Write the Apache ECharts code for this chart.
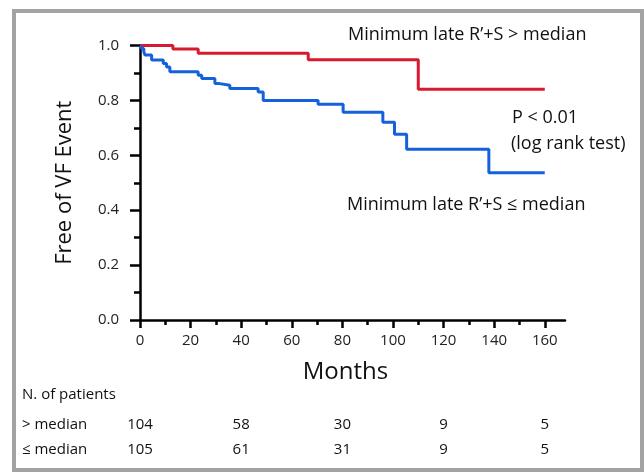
<!DOCTYPE html>
<html>
<head>
<meta charset="utf-8">
<script src="https://cdn.jsdelivr.net/npm/echarts@6/dist/echarts.min.js"></script>
<style>
  html, body { margin: 0; padding: 0; background: #fff; }
  #chart { width: 644px; height: 472px; }
</style>
</head>
<body>
<div id="chart"></div>
<script>
// Kaplan-Meier estimates: [month of event, survival after the event]
const highGroup = [
  [0, 1.0], [13, 0.987], [23, 0.972], [66.5, 0.948], [110, 0.841], [160, 0.841]
];
const lowGroup = [
  [0, 1.0], [0.7, 0.989], [1.5, 0.977], [2, 0.965], [4.6, 0.947], [9.2, 0.934],
  [10.5, 0.922], [11.8, 0.904], [23, 0.892], [24.4, 0.88], [29.6, 0.862],
  [30.9, 0.855], [35.5, 0.843], [46.7, 0.831], [48.7, 0.80], [70.4, 0.786],
  [80.3, 0.757], [96, 0.72], [100.6, 0.677], [105.4, 0.622], [137.9, 0.536],
  [160, 0.536]
];

const monthTicks = [0, 20, 40, 60, 80, 100, 120, 140, 160];
const monthMinorTicks = [10, 30, 50, 70, 90, 110, 130, 150];

// Number at risk table
const riskMonths = [0, 40, 80, 120, 160];
const riskHigh = [104, 58, 30, 9, 5];
const riskLow = [105, 61, 31, 9, 5];
const riskRowLabels = ['> median', '\u2264 median'];

const FONT = '"Open Sans", sans-serif';
const INK = '#000';

const chart = echarts.init(document.getElementById('chart'), null, { renderer: 'canvas' });

const axisLine = { show: true, lineStyle: { color: INK, width: 2.5 } };

const option = {
  backgroundColor: '#fff',
  animation: false,
  textStyle: { fontFamily: FONT },
  grid: { left: 140, top: 45.5, width: 425, height: 274.5, containLabel: false },
  xAxis: [
    {
      type: 'value', min: 0, max: 168, interval: 20, position: 'bottom',
      name: 'Months', nameLocation: 'middle', nameGap: 40,
      nameTextStyle: { fontSize: 24, color: '#111', fontFamily: FONT, padding: [0, 14, 0, 0] },
      axisLine: axisLine,
      axisTick: { show: true, length: 8, customValues: monthTicks, lineStyle: { color: INK, width: 2.5 } },
      axisLabel: { customValues: monthTicks, fontSize: 15, color: '#222', margin: 13, fontFamily: FONT },
      splitLine: { show: false }
    },
    {
      type: 'value', min: 0, max: 168, position: 'bottom',
      axisLine: { show: false },
      axisTick: { show: true, length: 5, customValues: monthMinorTicks, lineStyle: { color: INK, width: 2.5 } },
      axisLabel: { show: false },
      splitLine: { show: false }
    }
  ],
  yAxis: {
    type: 'value', min: 0, max: 1, interval: 0.2,
    name: 'Free of VF Event', nameLocation: 'middle', nameGap: 64,
    nameTextStyle: { fontSize: 22, color: '#111', fontFamily: FONT },
    axisLine: axisLine,
    axisTick: { show: true, length: 10, lineStyle: { color: INK, width: 2.5 } },
    minorTick: { show: true, splitNumber: 2, length: 6, lineStyle: { color: INK, width: 2.5 } },
    axisLabel: { fontSize: 15, color: '#222', margin: 21, fontFamily: FONT,
      formatter: v => v.toFixed(1) },
    splitLine: { show: false },
    minorSplitLine: { show: false }
  },
  series: [
    {
      name: 'Minimum late R\u2019+S > median', type: 'line', step: 'end',
      data: highGroup, symbol: 'none', z: 3,
      lineStyle: { color: '#d71a30', width: 3 }
    },
    {
      name: 'Minimum late R\u2019+S \u2264 median', type: 'line', step: 'end',
      data: lowGroup, symbol: 'none', z: 3,
      lineStyle: { color: '#1561dc', width: 3 }
    }
  ]
};

chart.setOption(option);

function label(text, x, y, size, align) {
  return {
    type: 'text', x: x, y: y, silent: true,
    style: {
      text: text, fill: '#111', font: size + 'px ' + FONT,
      textAlign: align || 'left', textVerticalAlign: 'middle'
    }
  };
}

const xPx = m => chart.convertToPixel({ xAxisIndex: 0 }, m);

const elements = [
  {
    type: 'rect', silent: true,
    shape: { x: 14, y: 11, width: 628, height: 459 },
    style: { fill: 'none', stroke: '#a3a3a3', lineWidth: 4 }
  },
  label('Minimum late R\u2019+S > median', 348, 35, 18),
  label('P < 0.01', 512, 118, 18),
  label('(log rank test)', 511, 144, 18),
  label('Minimum late R\u2019+S \u2264 median', 347, 205, 18),
  label('N. of patients', 22, 395, 15),
  label(riskRowLabels[0], 22, 425, 15),
  label(riskRowLabels[1], 22, 450, 15)
];
riskMonths.forEach((m, i) => {
  elements.push(label(String(riskHigh[i]), xPx(m), 425, 15, 'center'));
  elements.push(label(String(riskLow[i]), xPx(m), 450, 15, 'center'));
});

chart.setOption({ graphic: { elements: elements } });
</script>
</body>
</html>
